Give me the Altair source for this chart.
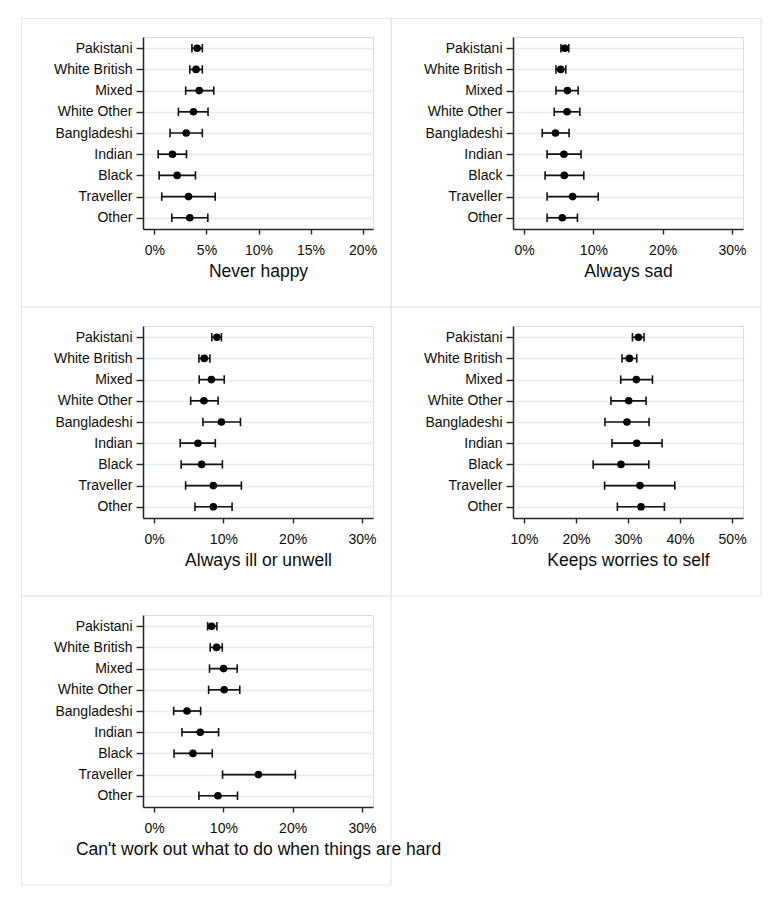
import altair as alt
import pandas as pd

groups = ["Pakistani", "White British", "Mixed", "White Other", "Bangladeshi",
          "Indian", "Black", "Traveller", "Other"]

never_happy_est = [4.1, 4.0, 4.3, 3.75, 3.05, 1.73, 2.18, 3.27, 3.4]
never_happy_lo = [3.6, 3.4, 3.0, 2.3, 1.5, 0.36, 0.45, 0.7, 1.67]
never_happy_hi = [4.6, 4.6, 5.7, 5.15, 4.6, 3.08, 3.94, 5.84, 5.13]

always_sad_est = [5.87, 5.29, 6.25, 6.2, 4.53, 5.75, 5.8, 7.0, 5.52]
always_sad_lo = [5.32, 4.6, 4.6, 4.35, 2.62, 3.32, 3.03, 3.32, 3.32]
always_sad_hi = [6.45, 6.02, 7.8, 8.05, 6.5, 8.22, 8.62, 10.7, 7.7]

ill_est = [9.07, 7.24, 8.27, 7.19, 9.72, 6.32, 6.86, 8.55, 8.55]
ill_lo = [8.33, 6.47, 6.51, 5.28, 7.05, 3.77, 3.91, 4.55, 5.9]
ill_hi = [9.72, 8.06, 10.12, 9.24, 12.47, 8.84, 9.86, 12.6, 11.26]

worries_est = [32.0, 30.27, 31.6, 30.13, 29.8, 31.68, 28.65, 32.3, 32.5]
worries_lo = [30.85, 28.84, 28.6, 26.72, 25.57, 26.92, 23.3, 25.5, 27.96]
worries_hi = [33.08, 31.68, 34.7, 33.47, 34.05, 36.55, 34.0, 39.0, 37.0]

hard_est = [8.3, 9.02, 10.03, 10.12, 4.75, 6.67, 5.61, 15.06, 9.21]
hard_lo = [7.73, 8.1, 8.0, 7.87, 2.83, 4.03, 2.88, 9.88, 6.47]
hard_hi = [9.07, 9.84, 12.0, 12.37, 6.72, 9.31, 8.4, 20.39, 12.04]

titles = ["Never happy", "Always sad", "Always ill or unwell",
          "Keeps worries to self", "Can't work out what to do when things are hard"]
domains = [[-1.1, 21.0], [-1.6, 31.6], [-1.6, 31.6], [7.9, 52.1], [-1.6, 31.6]]
tick_values = [[0, 5, 10, 15, 20], [0, 10, 20, 30], [0, 10, 20, 30],
               [10, 20, 30, 40, 50], [0, 10, 20, 30]]

FONT = "Liberation Sans"
INK = "#0d0d0d"
AXIS = "#262626"


def panel(title, est, lo, hi, domain, ticks):
    df = pd.DataFrame({"group": groups, "est": est, "lo": lo, "hi": hi})
    y = alt.Y("group:N", sort=groups,
              scale=alt.Scale(type="point", padding=0.53),
              axis=alt.Axis(title=None, grid=True, gridColor="#e2edf1", gridWidth=1.6,
                            tickSize=7, labelPadding=4, labelFontSize=14,
                            domainColor=AXIS, tickColor=AXIS, domainWidth=1.5,
                            tickWidth=1.4, labelColor=INK, labelFont=FONT))
    xscale = alt.Scale(domain=domain, nice=False, zero=False)
    xaxis = alt.Axis(values=ticks, title=title, labelExpr="datum.value + '%'",
                     grid=False, tickSize=5, labelPadding=9, labelFontSize=14,
                     titleFontSize=17.5, titleFontWeight="normal", titlePadding=5,
                     domainColor=AXIS, tickColor=AXIS, domainWidth=1.5, tickWidth=1.4,
                     labelColor=INK, titleColor=INK, labelFont=FONT, titleFont=FONT)
    frame = alt.Chart(pd.DataFrame({"k": [0]})).mark_rect(
        fill="white", fillOpacity=0, stroke="#e2eaee", strokeWidth=1.2
    ).encode(x=alt.value(-121.5), x2=alt.value(248), y=alt.value(-18.5), y2=alt.value(270))
    rule = alt.Chart(df).mark_rule(color="#111111", strokeWidth=1.7).encode(
        x=alt.X("lo:Q", scale=xscale, axis=xaxis), x2="hi:Q", y=y)
    cap_lo = alt.Chart(df).mark_tick(color="#111111", size=8.5, thickness=1.6, opacity=1).encode(
        x=alt.X("lo:Q", scale=xscale), y=y)
    cap_hi = alt.Chart(df).mark_tick(color="#111111", size=8.5, thickness=1.6, opacity=1).encode(
        x=alt.X("hi:Q", scale=xscale), y=y)
    pts = alt.Chart(df).mark_circle(color="black", size=58, opacity=1).encode(
        x=alt.X("est:Q", scale=xscale), y=y)
    return alt.layer(frame, rule, cap_lo, cap_hi, pts).properties(width=230, height=192)


series = [
    (never_happy_est, never_happy_lo, never_happy_hi),
    (always_sad_est, always_sad_lo, always_sad_hi),
    (ill_est, ill_lo, ill_hi),
    (worries_est, worries_lo, worries_hi),
    (hard_est, hard_lo, hard_hi),
]

panels = [panel(titles[i], *series[i], domains[i], tick_values[i]) for i in range(5)]

chart = alt.concat(*panels, columns=2).properties(
    spacing={"row": 97, "column": 140},
    bounds="flush",
    padding={"left": 12, "top": 9, "right": 4, "bottom": 4},
).configure_view(stroke=None).configure(font=FONT)

chart.save("out.html", embed_options={"renderer": "svg", "actions": False})
